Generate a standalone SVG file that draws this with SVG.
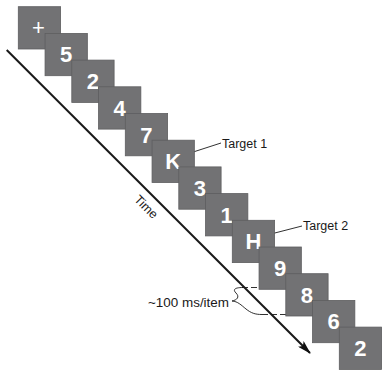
<svg xmlns="http://www.w3.org/2000/svg" width="384" height="371" viewBox="0 0 384 371">
<defs>
<style>
.sq{fill:#727274;stroke:#5e5e60;stroke-width:0.8}
.sym{fill:#ffffff;font-family:"Liberation Sans",Arial,sans-serif;font-weight:bold;font-size:22px;text-anchor:middle}
.lbl{fill:#1a1a1a;font-family:"Liberation Sans",Arial,sans-serif;font-size:12.5px}
.ln{stroke:#1a1a1a;fill:none}
</style>
<marker id="ah" viewBox="0 0 14 8" refX="13" refY="4" markerWidth="14" markerHeight="8" markerUnits="userSpaceOnUse" orient="auto">
<path d="M0,0 L14,4 L0,8 L3,4 Z" fill="#111"/>
</marker>
</defs>
<rect width="384" height="371" fill="#ffffff"/>
<g id="connectors">
<line class="ln" x1="6.7" y1="50" x2="310" y2="353" stroke-width="2" marker-end="url(#ah)"/>
<line class="ln" x1="187" y1="154" x2="221" y2="143" stroke-width="0.9"/>
<line class="ln" x1="267" y1="235" x2="302" y2="226" stroke-width="0.9"/>
<line class="ln" x1="242" y1="287.5" x2="259" y2="287.5" stroke-width="0.9" stroke-dasharray="6,3"/>
<line class="ln" x1="262" y1="314.5" x2="286" y2="314.5" stroke-width="0.9" stroke-dasharray="6,3"/>
<path class="ln" stroke-width="0.9" d="M243 287.5 C236 287.5 232 289 236 293 C240 297 237 300 232 301 C238 301.5 241 305 246 309 C251 313 255 314.5 262 314.5"/>
</g>
<g id="n0"><rect class="sq" x="18.3" y="6.7" width="42.3" height="42.3"/><text class="sym" x="38.5" y="35" style="font-weight:normal;font-size:22px">+</text></g>
<g id="n1"><rect class="sq" x="45.05" y="33.4" width="42.3" height="42.3"/><text class="sym" x="66.2" y="62.4">5</text></g>
<g id="n2"><rect class="sq" x="71.8" y="60.1" width="42.3" height="42.3"/><text class="sym" x="92.95" y="89.1">2</text></g>
<g id="n3"><rect class="sq" x="98.55" y="86.8" width="42.3" height="42.3"/><text class="sym" x="119.7" y="115.8">4</text></g>
<g id="n4"><rect class="sq" x="125.3" y="113.5" width="42.3" height="42.3"/><text class="sym" x="146.45" y="142.5">7</text></g>
<g id="n5"><rect class="sq" x="152.05" y="140.2" width="42.3" height="42.3"/><text class="sym" x="173.2" y="169.2">K</text></g>
<g id="n6"><rect class="sq" x="178.8" y="166.9" width="42.3" height="42.3"/><text class="sym" x="199.95" y="195.9">3</text></g>
<g id="n7"><rect class="sq" x="205.55" y="193.6" width="42.3" height="42.3"/><text class="sym" x="226.7" y="222.6">1</text></g>
<g id="n8"><rect class="sq" x="232.3" y="220.3" width="42.3" height="42.3"/><text class="sym" x="253.45" y="249.3">H</text></g>
<g id="n9"><rect class="sq" x="259.05" y="247" width="42.3" height="42.3"/><text class="sym" x="280.2" y="276">9</text></g>
<g id="n10"><rect class="sq" x="285.8" y="273.7" width="42.3" height="42.3"/><text class="sym" x="306.95" y="302.7">8</text></g>
<g id="n11"><rect class="sq" x="312.55" y="300.4" width="42.3" height="42.3"/><text class="sym" x="333.7" y="329.4">6</text></g>
<g id="n12"><rect class="sq" x="339.3" y="327.1" width="42.3" height="42.3"/><text class="sym" x="360.45" y="356.1">2</text></g>
<g id="labels">
<text class="lbl" x="222" y="148.2">Target 1</text>
<text class="lbl" x="303" y="230.2">Target 2</text>
<text class="lbl" x="148" y="307.2" textLength="81" lengthAdjust="spacingAndGlyphs">~100 ms/item</text>
<text class="lbl" text-anchor="middle" transform="translate(146,207) rotate(45)" dy="4">Time</text>
</g>
</svg>
